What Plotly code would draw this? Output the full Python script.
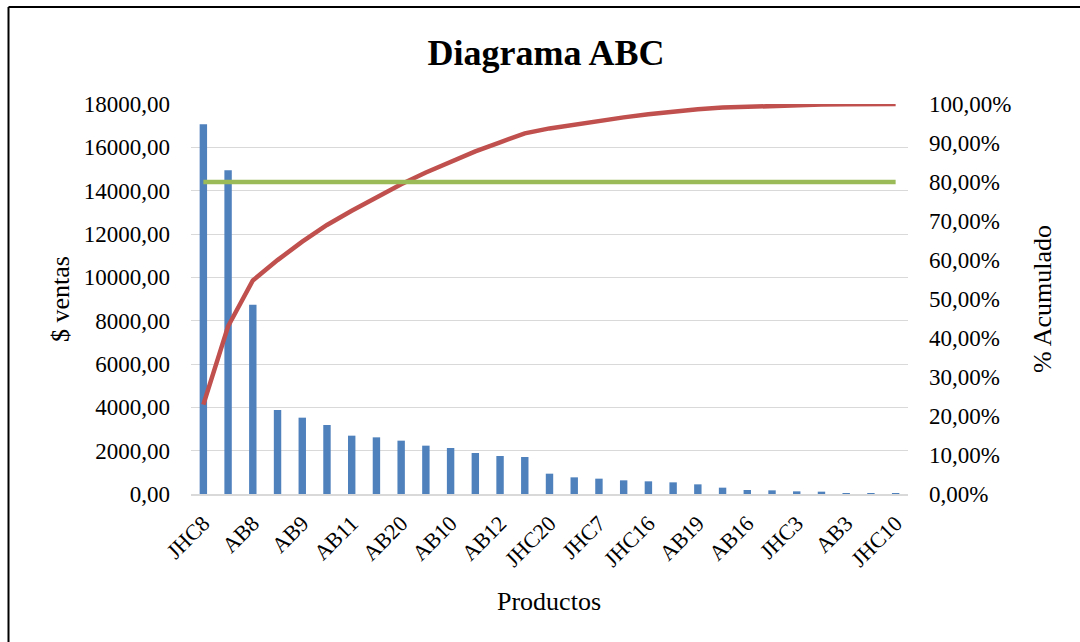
import plotly.graph_objects as go

# Sales per product, sorted descending (ABC / Pareto analysis)
ventas = [17062, 14938, 8738, 3877, 3523, 3185, 2692, 2615, 2462, 2231,
          2123, 1892, 1754, 1708, 938, 769, 708, 631, 585, 538,
          446, 292, 185, 169, 123, 108, 46, 31, 25]

# Cumulative share of total sales
acumulado = [0.2293, 0.4301, 0.5476, 0.5997, 0.6471, 0.6899, 0.7261, 0.7612,
             0.7943, 0.8243, 0.8528, 0.8783, 0.9018, 0.9248, 0.9374, 0.9477,
             0.9573, 0.9657, 0.9736, 0.9808, 0.9868, 0.9908, 0.9933, 0.9955,
             0.9972, 0.9986, 0.9992, 0.9997, 1.0]

# A-class cut-off
limite_a = 0.80

# Labels shown on the category axis (every second product)
etiquetas = ["JHC8", "AB8", "AB9", "AB11", "AB20", "AB10", "AB12", "JHC20",
             "JHC7", "JHC16", "AB19", "AB16", "JHC3", "AB3", "JHC10"]

idx = list(range(len(ventas)))
W, H = 1080, 642
L, R, T, B = 191, 172, 104, 148
pw, ph = W - L - R, H - T - B

def px_x(x):
    return (x - L) / pw

def px_y(y):
    return (H - B - y) / ph

FONT = "Liberation Serif"

fig = go.Figure()
fig.add_trace(go.Bar(x=idx, y=ventas, marker=dict(color="#4F81BD", line=dict(width=0)),
                     width=0.3, name="$ ventas"))
fig.add_trace(go.Scatter(x=idx, y=acumulado, yaxis="y2", mode="lines",
                         line=dict(color="#C0504D", width=4.5), name="% Acumulado"))
fig.add_trace(go.Scatter(x=idx, y=[limite_a] * len(idx), yaxis="y2", mode="lines",
                         line=dict(color="#9BBB59", width=4.5), name="80%"))

fig.update_layout(
    width=W, height=H,
    margin=dict(l=L, r=R, t=T, b=B, autoexpand=False),
    paper_bgcolor="white", plot_bgcolor="white",
    showlegend=False,
    separators=",.",
    font=dict(family=FONT, color="black", size=22),
    title=dict(text="<b>Diagrama ABC</b>", x=546 / W, xanchor="center",
               y=1 - 52 / H, yanchor="middle", yref="container",
               font=dict(family=FONT, size=36, color="black")),
    xaxis=dict(range=[-0.5, len(ventas) - 0.5],
               tickmode="array", tickvals=idx[::2], ticktext=etiquetas,
               tickangle=-45, showgrid=False, ticks="",
               showline=True, linecolor="#D9D9D9", linewidth=1.5,
               tickfont=dict(family=FONT, size=22), ticklabelstandoff=6),
    yaxis=dict(range=[0, 18000], dtick=2000, tickformat=".2f",
               showgrid=True, gridcolor="#D9D9D9", gridwidth=1.3,
               zeroline=False, showline=False, ticks="",
               tickfont=dict(family=FONT, size=23), ticklabelstandoff=20),
    yaxis2=dict(range=[0, 1], dtick=0.1, tickformat=".2%", overlaying="y", side="right",
                showgrid=False, zeroline=False, showline=False, ticks="",
                tickfont=dict(family=FONT, size=23), ticklabelstandoff=20),
)

# Axis titles
fig.add_annotation(text="Productos", x=px_x(549), y=px_y(601), xref="paper", yref="paper",
                   showarrow=False, font=dict(family=FONT, size=26), xanchor="center", yanchor="middle")
fig.add_annotation(text="$ ventas", x=px_x(60), y=px_y(299), xref="paper", yref="paper",
                   showarrow=False, textangle=-90, font=dict(family=FONT, size=26),
                   xanchor="center", yanchor="middle")
fig.add_annotation(text="% Acumulado", x=px_x(1042), y=px_y(299), xref="paper", yref="paper",
                   showarrow=False, textangle=-90, font=dict(family=FONT, size=26),
                   xanchor="center", yanchor="middle")

# Chart frame (top and left edges)
fig.add_shape(type="line", xref="paper", yref="paper", x0=px_x(8.5), x1=px_x(1100),
              y0=px_y(7), y1=px_y(7), line=dict(color="black", width=2))
fig.add_shape(type="line", xref="paper", yref="paper", x0=px_x(8.5), x1=px_x(8.5),
              y0=px_y(7), y1=px_y(700), line=dict(color="black", width=2))

fig.write_html("out.html")
